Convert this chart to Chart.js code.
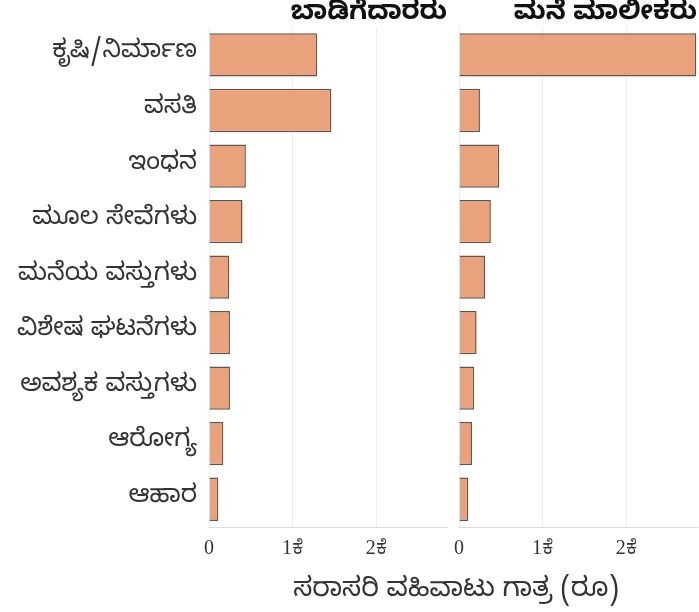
<!DOCTYPE html>
<html>
<head>
<meta charset="utf-8">
<script src="https://cdn.jsdelivr.net/npm/chart.js@4/dist/chart.umd.min.js"></script>
<style>
  html, body { margin:0; padding:0; background:#fff; }
  #wrap { position:relative; width:699px; height:612px; overflow:hidden; }
  #c1 { position:absolute; left:0; top:0; }
  #c2 { position:absolute; left:444px; top:0; }
  #xtitle { position:absolute; left:0; width:912px; top:577px; text-align:center; line-height:32px;
            font-family:'Noto Sans Kannada','Lohit Kannada','Tunga','Noto Sans',sans-serif; font-size:27px; color:#333; }
</style>
</head>
<body>
<div id="wrap">
  <canvas id="c1" width="450" height="612"></canvas>
  <canvas id="c2" width="255" height="612"></canvas>
  <div id="xtitle">ಸರಾಸರಿ ವಹಿವಾಟು ಗಾತ್ರ (ರೂ)</div>
</div>
<script>
const categories = ['ಕೃಷಿ/ನಿರ್ಮಾಣ','ವಸತಿ','ಇಂಧನ','ಮೂಲ ಸೇವೆಗಳು','ಮನೆಯ ವಸ್ತುಗಳು','ವಿಶೇಷ ಘಟನೆಗಳು','ಅವಶ್ಯಕ ವಸ್ತುಗಳು','ಆರೋಗ್ಯ','ಆಹಾರ'];
const renters = [1290, 1460, 440, 400, 240, 250, 250, 170, 110];
const owners  = [2830, 250, 480, 380, 310, 210, 180, 155, 110];
const panelTitles = ['ಬಾಡಿಗೆದಾರರು', 'ಮನೆ ಮಾಲೀಕರು'];
const tickValues = [0, 1000, 2000];
const tickLabels = ['0', '1ಕೆ', '2ಕೆ'];
const axisMax = 2840;

const KN = "'Noto Sans Kannada','Lohit Kannada','Tunga','Noto Sans',sans-serif";
const SERIF = "'Liberation Serif','Noto Serif Kannada','Noto Sans Kannada',serif";
const fill = 'rgb(234,162,124)';
const edge = 'rgba(70,55,45,0.85)';

function makeChart(id, data, title, showY, pad) {
  return new Chart(document.getElementById(id), {
    type: 'bar',
    data: {
      labels: categories,
      datasets: [{ data: data, backgroundColor: fill, borderColor: edge, borderWidth: 1.5,
                   barPercentage: 0.78, categoryPercentage: 1.0, borderSkipped: 'start' }]
    },
    options: {
      indexAxis: 'y',
      responsive: false,
      animation: false,
      layout: { padding: pad },
      plugins: {
        legend: { display: false },
        tooltip: { enabled: false },
        title: { display: true, text: title, align: 'end', color: '#111',
                 font: { family: KN, size: 26, weight: 'bold', lineHeight: 1.2 }, padding: { top: 1, bottom: -5 } }
      },
      scales: {
        x: {
          min: 0, max: axisMax,
          afterBuildTicks: s => { s.ticks = tickValues.map(v => ({ value: v })); },
          ticks: { callback: (v, i) => tickLabels[i], color: '#333', padding: 10,
                   font: { family: SERIF, size: 20 }, maxRotation: 0 },
          grid: { color: '#ececec', lineWidth: 1, drawTicks: false },
          border: { display: true, color: '#dddddd' },
          afterFit: s => { s.height = 85; }
        },
        y: {
          display: showY,
          ticks: { color: '#333', padding: 12, font: { family: KN, size: 25 } },
          grid: { display: false, drawTicks: false },
          border: { display: false },
          afterFit: s => { s.width = showY ? 209 : 0; }
        }
      }
    }
  });
}
makeChart('c1', renters, panelTitles[0], true, { left: 0, right: 3, top: 0, bottom: 0 });
makeChart('c2', owners, panelTitles[1], false, { left: 0, right: 2, top: 0, bottom: 0 });
</script>
</body>
</html>
